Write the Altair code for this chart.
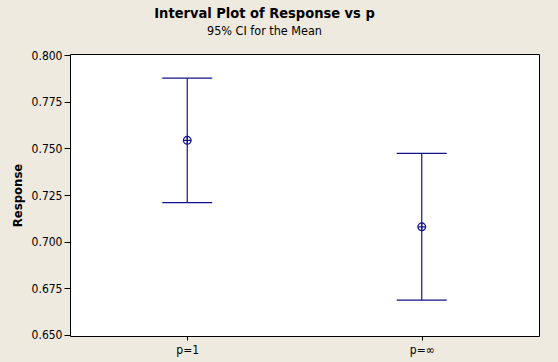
import altair as alt
import pandas as pd

groups = ["p=1", "p=∞"]
means = [0.7544, 0.7079]
lower = [0.7209, 0.6685]
upper = [0.7878, 0.7474]

df = pd.DataFrame({"p": groups, "mean": means, "lower": lower, "upper": upper})

FONT = "DejaVu Sans Condensed, Liberation Sans, sans-serif"
blue = "#12128C"
xenc = alt.X("p:N", scale=alt.Scale(type="point", padding=0.5, domain=groups),
             axis=alt.Axis(title=None, labelAngle=0, domain=False, ticks=True, tickSize=4,
                           tickColor="black", labelColor="black", labelFont=FONT,
                           labelFontSize=12, labelPadding=4, grid=False))
yscale = alt.Scale(domain=[0.6492, 0.8008], nice=False, zero=False)
yaxis = alt.Axis(title="Response", values=[0.65, 0.675, 0.7, 0.725, 0.75, 0.775, 0.8],
                 format=".3f", domain=False, tickSize=6, tickColor="black",
                 labelColor="black", labelFont=FONT, labelFontSize=12,
                 labelPadding=2, grid=False, titleFont=FONT, titleFontSize=13,
                 titleFontWeight="bold", titleColor="black", titleX=-53, titleY=141,
                 titleBaseline="middle", titleAlign="center")

base = alt.Chart(df)
rule = base.mark_rule(color=blue, strokeWidth=1.2).encode(
    x=xenc, y=alt.Y("lower:Q", scale=yscale, axis=yaxis), y2="upper:Q")
cap_hi = base.mark_tick(color=blue, size=50, thickness=1.2, opacity=1).encode(x="p:N", y="upper:Q")
cap_lo = base.mark_tick(color=blue, size=50, thickness=1.2, opacity=1).encode(x="p:N", y="lower:Q")
circ = base.mark_point(shape="circle", size=60, filled=False, color=blue, strokeWidth=1.2,
                       opacity=1).encode(x="p:N", y="mean:Q")
cross = base.mark_point(shape="M-1,0L1,0M0,-1L0,1", size=60, filled=False, color=blue,
                        strokeWidth=1.2, opacity=1).encode(x="p:N", y="mean:Q")

chart = alt.layer(rule, cap_hi, cap_lo, circ, cross).properties(
    width=469, height=282,
    title=alt.TitleParams(
        text="Interval Plot of Response vs p", subtitle="95% CI for the Mean",
        font=FONT, fontSize=14.5, fontWeight="bold", color="black",
        subtitleFont=FONT, subtitleFontSize=12.5, subtitleColor="black",
        anchor="middle", dx=-40, offset=11, subtitlePadding=3),
    background="#EEEAE0",
    padding={"left": 70, "top": 54, "right": 19, "bottom": 26},
    autosize=alt.AutoSizeParams(type="none"),
).configure_view(stroke="black", strokeWidth=1, fill="white")

chart.save("out.html", embed_options={"renderer": "svg", "actions": False})
